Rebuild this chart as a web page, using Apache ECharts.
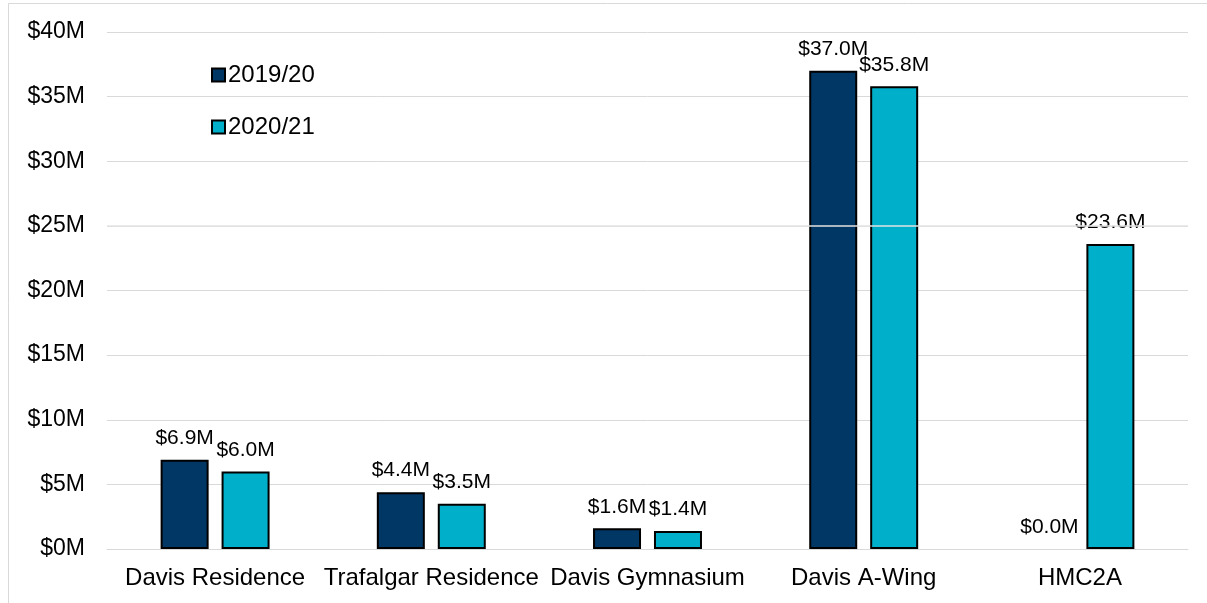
<!DOCTYPE html>
<html>
<head>
<meta charset="utf-8">
<script src="https://cdn.jsdelivr.net/npm/echarts@6/dist/echarts.min.js"></script>
<style>
  html, body { margin: 0; padding: 0; background: #fff; }
  #chart { width: 1207px; height: 603px; }
</style>
</head>
<body>
<div id="chart"></div>
<script>
// Capital project spending by building, two fiscal years ($ millions)
const categories = ['Davis Residence', 'Trafalgar Residence', 'Davis Gymnasium', 'Davis A-Wing', 'HMC2A'];
const fy2019 = [6.9, 4.4, 1.6, 37.0, 0.0];
const fy2020 = [6.0, 3.5, 1.4, 35.8, 23.6];
const seriesNames = ['2019/20', '2020/21'];
const yTicks = { min: 0, max: 40, step: 5 };

const FONT = '"Liberation Sans", Arial, sans-serif';
const GRID_COLOR = '#d9d9d9';

// a zero-height bar shows no outline
const toItems = arr => arr.map(v => v === 0 ? { value: v, itemStyle: { borderWidth: 0 } } : v);

const chart = echarts.init(document.getElementById('chart'), null, { renderer: 'canvas' });

const barLabel = {
  show: true,
  position: 'top',
  distance: 11,
  color: '#000',
  fontFamily: FONT,
  fontSize: 21,
  formatter: p => '$' + Number(p.value).toFixed(1) + 'M'
};

chart.setOption({
  backgroundColor: '#fff',
  animation: false,
  textStyle: { fontFamily: FONT },
  graphic: [
    {
      type: 'polyline',
      shape: { points: [[8.5, 603], [8.5, 3.5], [1207, 3.5]] },
      style: { stroke: GRID_COLOR, lineWidth: 1, fill: null },
      silent: true
    }
  ],
  grid: { left: 107, right: 19, top: 32, bottom: 54, containLabel: false },
  legend: {
    data: seriesNames,
    orient: 'vertical',
    left: 211,
    top: 63,
    padding: 0,
    itemWidth: 13,
    itemHeight: 13,
    itemGap: 28,
    icon: 'rect',
    textStyle: { fontFamily: FONT, fontSize: 24, color: '#000', padding: [0, 0, 0, -2] }
  },
  xAxis: {
    type: 'category',
    data: categories,
    axisLine: { show: true, lineStyle: { color: GRID_COLOR, width: 1 } },
    axisTick: { show: false },
    axisLabel: { color: '#000', fontFamily: FONT, fontSize: 24, margin: 17, interval: 0 }
  },
  yAxis: {
    type: 'value',
    min: yTicks.min,
    max: yTicks.max,
    interval: yTicks.step,
    axisLine: { show: false },
    axisTick: { show: false },
    splitLine: { lineStyle: { color: GRID_COLOR, width: 1 } },
    axisLabel: {
      color: '#000', fontFamily: FONT, fontSize: 23, margin: 22,
      formatter: v => '$' + v + 'M'
    }
  },
  series: [
    {
      name: seriesNames[0],
      type: 'bar',
      data: toItems(fy2019),
      barWidth: '22.2%',
      barGap: '27%',
      itemStyle: { color: '#003764', borderColor: '#000', borderWidth: 2 },
      label: barLabel
    },
    {
      name: seriesNames[1],
      type: 'bar',
      data: toItems(fy2020),
      barWidth: '22.2%',
      barGap: '27%',
      itemStyle: { color: '#00b0ca', borderColor: '#000', borderWidth: 2 },
      label: barLabel
    },
    {
      // the $25M rule drawn over the bars
      name: 'rule',
      type: 'line',
      data: [],
      z: 20,
      silent: true,
      markLine: {
        silent: true,
        symbol: 'none',
        label: { show: false },
        lineStyle: { color: '#e3e3e3', width: 1.5, type: 'solid' },
        data: [{ yAxis: 25 }]
      }
    }
  ]
});
</script>
</body>
</html>
